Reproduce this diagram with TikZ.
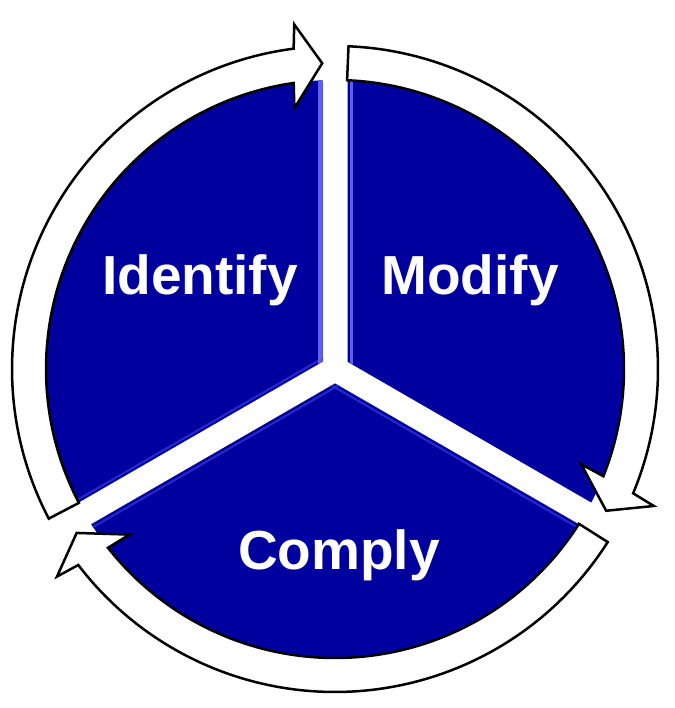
\documentclass[tikz,border=0pt]{standalone}
\usepackage{fontspec}
\setmainfont{Liberation Sans}
\usetikzlibrary{calc}
\definecolor{pieblue}{RGB}{0,0,158}
\definecolor{bevellight}{RGB}{95,95,240}
\definecolor{bevelmid}{RGB}{40,40,205}
\newcommand{\myringarrow}[3]{%
  \draw[ringarrow] (#1:323) arc[start angle=#1, end angle={#2-0.44}, radius=323]
    -- ({#2-1.05}:347) -- (#3:306) -- ({#2+1.05}:264) -- ({#2+0.42}:289)
    arc[start angle={#2+0.42}, end angle=#1, radius=289] -- cycle;}
\begin{document}
\begin{tikzpicture}[x=1pt,y=1pt,
  ringarrow/.style={draw=black,fill=white,line width=2.5pt,line join=miter},
  lbl/.style={text=white,font=\bfseries\fontsize{55}{60}\selectfont,anchor=base,inner sep=0pt}]
\useasboundingbox (0,0) rectangle (674,708);
\begin{scope}[shift={(335,339)}]
  % Identify sector
  \begin{scope}
    \clip (150:14.43) -- (92.48:289) arc[start angle=92.48,end angle=207.52,radius=289] -- cycle;
    \fill[pieblue] (-400,-400) rectangle (400,400);
    \draw[bevelmid,line width=2pt] ($(120:15.5)$) -- ($(120:15.5)+(210:320)$);
    \draw[bevellight,line width=4pt] (-15,0) -- (-15,320);
  \end{scope}
  % Modify sector
  \begin{scope}
    \clip (30:14.43) -- (87.52:289) arc[start angle=87.52,end angle=-27.52,radius=289] -- cycle;
    \fill[pieblue] (-400,-400) rectangle (400,400);
    \draw[bevellight,line width=3pt] (16.5,0) -- (16.5,320);
  \end{scope}
  % Comply sector
  \begin{scope}
    \clip (270:14.43) -- (212.48:289) arc[start angle=212.48,end angle=327.52,radius=289] -- cycle;
    \fill[pieblue] (-400,-400) rectangle (400,400);
    \draw[bevelmid,line width=2pt] ($(300:16)$) -- ($(300:16)+(210:320)$);
    \draw[bevelmid,line width=2pt] ($(240:16)$) -- ($(240:16)+(330:320)$);
  \end{scope}
  % ring arrows
  \myringarrow{207.6}{97.8}{92.4}
  \myringarrow{87.6}{-22.2}{-27.6}
  \myringarrow{-32.4}{-142.2}{-147.6}
  % labels
  \node[lbl] (identify) at (-135,74) {Identify};
  \node[lbl] (modify) at (135,74) {Modify};
  \node[lbl] (comply) at (4,-201) {Comply};
\end{scope}
\end{tikzpicture}
\end{document}
